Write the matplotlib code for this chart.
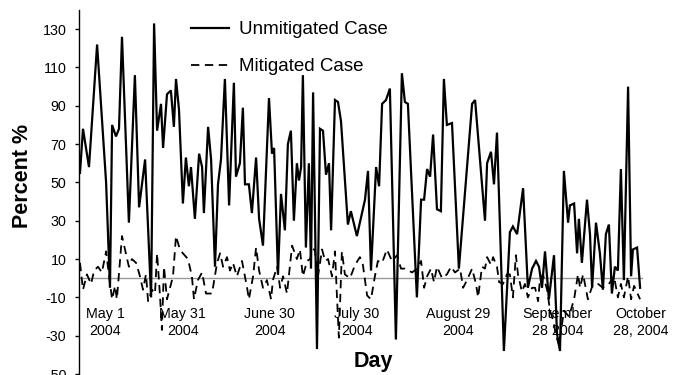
import matplotlib
matplotlib.use("Agg")
import matplotlib.pyplot as plt

plt.rcParams['font.family'] = ['Liberation Sans', 'DejaVu Sans']
plt.rcParams['lines.scale_dashes'] = False
plt.rcParams['axes.unicode_minus'] = False

# ---- data (days since start of record, percent) ----
unmit_days = [0.0, 1.0, 3.0, 5.7, 8.7, 10.0, 10.7, 12.0, 13.0, 14.0, 16.3, 18.3, 19.7, 21.7,
              23.7, 24.7, 25.7, 27.0, 27.7, 29.0, 30.3, 31.3, 32.0, 33.0, 34.3, 35.3, 36.3,
              37.0, 38.3, 39.7, 40.7, 41.3, 42.7, 43.7, 45.0, 46.0, 47.0, 48.3, 49.7, 51.3,
              52.0, 53.3, 54.3, 55.0, 56.3, 57.3, 58.7, 59.7, 61.0, 63.0, 64.0, 64.7, 66.0,
              67.0, 68.3, 69.3, 70.3, 71.3, 72.3, 73.0, 73.7, 74.3, 75.3, 76.3, 77.0, 77.7,
              79.0, 80.0, 81.0, 82.0, 83.0, 83.7, 85.0, 86.0, 87.0, 89.3, 90.3, 92.3, 95.0,
              96.0, 97.0, 98.7, 99.7, 100.7, 102.0, 103.3, 105.3, 107.3, 108.3, 109.3, 112.3,
              113.7, 114.7, 115.7, 116.7, 117.7, 119.0, 120.3, 121.3, 122.3, 124.0, 126.3,
              130.7, 131.7, 135.0, 135.7, 137.0, 138.0, 139.0, 141.3, 143.3, 144.3, 145.7,
              147.7, 149.3, 150.7, 152.0, 153.0, 154.0, 155.0, 156.3, 158.0, 159.0, 160.0,
              161.3, 162.7, 163.3, 164.7, 165.7, 166.3, 167.3, 169.0, 170.0, 170.7, 172.0,
              173.3, 174.3, 175.3, 176.3, 177.3, 178.3, 179.3, 180.3, 181.3, 182.7, 183.7,
              184.3, 185.7, 186.7]
unmit_vals = [55, 78, 58, 122, 50, -5, 80, 74, 78, 126, 29, 106, 37, 62,
              -10, 133, 77, 91, 68, 96, 98, 79, 104, 88, 39, 63, 48,
              58, 31, 65, 58, 34, 79, 62, 6, 49, 62, 104, 38, 102,
              53, 60, 89, 49, 49, 34, 63, 31, 17, 94, 65, 68, 2,
              44, 25, 70, 77, 30, 60, 51, 58, 106, 16, 60, 5, 97,
              -37, 78, 77, 54, 60, 25, 93, 92, 82, 28, 35, 22, 41,
              56, 4, 58, 48, 91, 93, 99, -32, 107, 92, 91, -10,
              41, 41, 57, 53, 75, 36, 35, 104, 80, 81, 5,
              91, 93, 30, 60, 66, 49, 76, -38, 24, 27, 23,
              47, -5, 5, 9, 6, -5, 14, -11, 12, -29, -38,
              56, 29, 38, 39, 13, 31, 8, 41, 23, -5, 29,
              13, -6, 23, 28, -8, 6, 4, 57, -1, 100, 1,
              15, 16, -5]

mit_days = [0.0, 1.0, 2.3, 3.7, 4.7, 6.0, 7.3, 8.7, 9.7, 10.7, 11.7, 12.3, 14.0, 15.3,
            16.3, 17.3, 18.7, 20.0, 21.0, 22.0, 22.7, 24.0, 25.0, 25.7, 26.7, 27.3, 28.0,
            29.0, 30.0, 31.0, 32.0, 33.3, 34.3, 36.0, 37.3, 38.0, 39.3, 40.7, 42.0, 44.0,
            45.7, 46.7, 47.7, 49.0, 50.0, 51.0, 52.3, 54.0, 55.7, 56.3, 57.7, 58.7, 59.7,
            61.0, 62.3, 63.7, 64.3, 65.7, 66.7, 67.7, 69.0, 70.7, 72.3, 73.3, 74.3, 75.7,
            76.7, 77.3, 78.3, 79.3, 80.7, 81.7, 82.7, 84.0, 85.0, 85.7, 86.3, 87.3, 88.3,
            90.0, 91.7, 93.3, 94.3, 95.7, 97.0, 98.3, 99.3, 100.7, 102.3, 104.0, 105.7,
            107.0, 108.3, 110.7, 112.3, 113.7, 114.7, 115.7, 117.0, 118.0, 119.0, 120.7,
            122.3, 123.7, 125.0, 126.7, 127.7, 129.0, 130.7, 132.0, 132.7, 134.0, 135.0,
            135.7, 137.0, 137.7, 139.0, 139.7, 141.0, 142.3, 143.3, 144.3, 145.3, 146.0,
            147.3, 148.3, 149.3, 150.7, 151.7, 152.7, 153.3, 154.3, 155.7, 156.7, 157.7,
            158.7, 159.7, 161.3, 163.0, 164.7, 166.0, 166.7, 167.7, 169.3, 171.0, 172.7,
            174.3, 176.3, 178.0, 179.3, 180.3, 181.3, 182.7, 183.7, 184.7, 186.7]
mit_vals = [8, -6, 2, -3, 4, 6, 3, 14, 1, -11, -4, -11, 22, 13,
            6, 10, 8, 1, -6, 2, -12, -6, -8, 13, -10, -27, 6,
            -11, -5, 1, 22, 15, 13, 10, 1, -11, -1, 3, -8, -8,
            8, 13, 6, 11, 4, 8, 1, 9, -5, -11, 1, 16, 4,
            -5, -1, -11, -1, 6, -5, 1, -8, 17, 10, 15, 1, 9,
            10, 15, 15, 1, 15, 9, 10, 1, 14, -11, -31, 14, 2,
            0, 7, 11, 7, -9, -11, 1, 9, 8, 15, 9, 12,
            5, 5, 3, 5, 9, -5, 1, 5, -2, 6, 0,
            2, 6, 3, 5, -5, -1, 5, -3, -10, 6, 5,
            11, 7, 11, 6, -2, -3, 2, 2, -10, 12, 2,
            -7, -3, -10, -5, -5, -12, -1, 2, -6, -17, -22,
            -30, -35, -17, -20, -11, 2, -5, 2, -11, -3, -3,
            -5, -3, 1, -10, -3, -10, 1, -11, -4, -11]

date_label_days = [8.5, 34.2, 63.3, 92.3, 126.0, 159.3, 187.0]
date_labels = ["May 1\n2004", "May 31\n2004", "June 30\n2004", "July 30\n2004",
               "August 29\n2004", "September\n28 2004", "October\n28, 2004"]
yticks = list(range(-50, 131, 20))
series_names = ["Unmitigated Case", "Mitigated Case"]

W, H = 685, 375
fig = plt.figure(figsize=(W / 100, H / 100), dpi=100)
ax = fig.add_axes([79 / W, 1 / H, 606 / W, 364 / H])
ax.set_xlim(-0.33, 201.67)
ax.set_ylim(-50, 140)

# zero reference line
ax.plot([unmit_days[0], unmit_days[-1] + 0.5], [0, 0], color='#999999', lw=1.0, zorder=1)

ax.plot(unmit_days, unmit_vals, color='black', lw=1.6, solid_joinstyle='miter',
        label=series_names[0], zorder=3)
ax.plot(mit_days, mit_vals, color='black', lw=1.3, dashes=(6, 4),
        label=series_names[1], zorder=2)

for s in ['top', 'right', 'bottom']:
    ax.spines[s].set_visible(False)
ax.spines['left'].set_linewidth(1.0)
ax.set_xticks([])
ax.set_yticks(yticks)
ax.tick_params(axis='y', length=3, width=1.0, pad=6, labelsize=10.3)

for d, lab in zip(date_label_days, date_labels):
    ax.text(d, -23, lab, ha='center', va='center', fontsize=10.3, linespacing=1.25)

fig.text(23 / W, 1 - 176 / H, "Percent %", rotation=90, ha='center', va='center',
         fontsize=15.5, fontweight='bold')
fig.text(373.5 / W, 1 - 362 / H, "Day", ha='center', va='center',
         fontsize=15.5, fontweight='bold')

leg = ax.legend(loc='upper left', bbox_to_anchor=(191 / W, 1 - 21 / H),
                bbox_transform=fig.transFigure, frameon=False, fontsize=13.5,
                handlelength=2.0, handletextpad=0.55, labelspacing=1.06,
                borderpad=0, borderaxespad=0)

fig.savefig("out.png", dpi=100)
